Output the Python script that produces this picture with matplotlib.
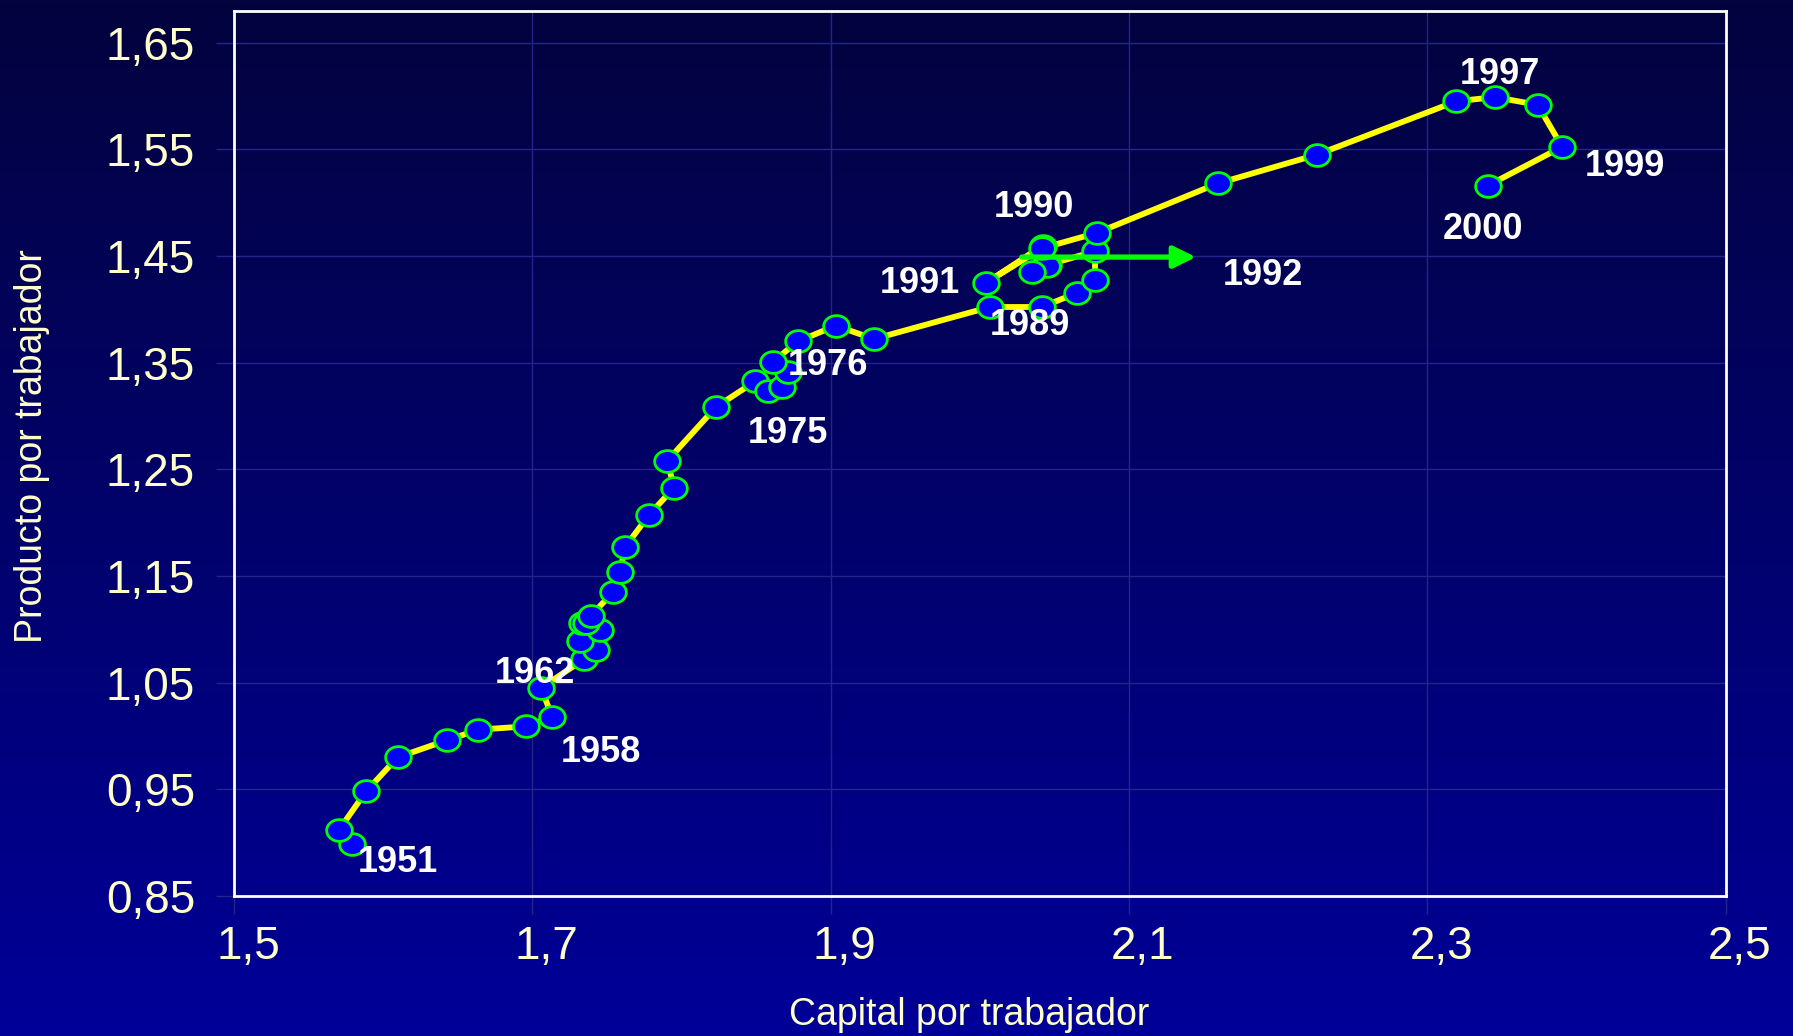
import numpy as np
import matplotlib
matplotlib.use("Agg")
import matplotlib.pyplot as plt
from matplotlib.path import Path
from matplotlib.transforms import ScaledTranslation

# capital per worker (x) and output per worker (y), in path order 1951-2000
capital = [1.5793, 1.5704, 1.5885, 1.6097, 1.6426, 1.6638, 1.6955, 1.7134, 1.7058,
           1.7346, 1.7425, 1.7320, 1.7454, 1.7331, 1.7358, 1.7391,
           1.7543, 1.7588, 1.7621, 1.7784, 1.7950, 1.7905,
           1.8231, 1.8493, 1.8582, 1.8672, 1.8712, 1.8611, 1.8779, 1.9034, 1.9290,
           2.0068, 2.0415, 2.0649, 2.0772, 2.0772, 2.0459, 2.0448, 2.0348,
           2.0421, 2.0041, 2.0415, 2.0783,
           2.1594, 2.2260, 2.3193, 2.3452, 2.3739, 2.3903, 2.3405]
producto = [0.899, 0.912, 0.948, 0.980, 0.996, 1.006, 1.009, 1.018, 1.045,
            1.072, 1.081, 1.089, 1.0995, 1.106, 1.1057, 1.1127,
            1.135, 1.1535, 1.177, 1.2076, 1.2327, 1.258,
            1.3084, 1.3324, 1.323, 1.3268, 1.3409, 1.3506, 1.3699, 1.3847, 1.3722,
            1.4022, 1.4022, 1.4153, 1.4279, 1.4544, 1.4419, 1.4403, 1.4347,
            1.4597, 1.4248, 1.4572, 1.4716,
            1.518, 1.545, 1.595, 1.599, 1.5917, 1.5523, 1.516]

# year labels (text, left x, centre y)
year_labels = ["1951", "1958", "1962", "1975", "1976", "1989", "1990", "1991",
               "1992", "1997", "1999", "2000"]
label_x = [1.5827, 1.7188, 1.675, 1.8441, 1.8711, 2.0069, 2.0095, 1.9326,
           2.1628, 2.322, 2.4057, 2.3106]
label_y = [0.8816, 0.9846, 1.0589, 1.2837, 1.3474, 1.3844, 1.4956, 1.4239,
           1.4313, 1.6206, 1.5341, 1.475]

# green arrow (start, end)
arrow_start = (2.0281, 1.449)
arrow_end = (2.1449, 1.449)

x_ticks = [1.5, 1.7, 1.9, 2.1, 2.3, 2.5]
x_tick_labels = ["1,5", "1,7", "1,9", "2,1", "2,3", "2,5"]
y_ticks = [0.85, 0.95, 1.05, 1.15, 1.25, 1.35, 1.45, 1.55, 1.65]
y_tick_labels = ["0,85", "0,95", "1,05", "1,15", "1,25", "1,35", "1,45", "1,55", "1,65"]

cream = "#FFFFCC"
grid_col = "#24248A"

plt.rcParams["font.family"] = ["Liberation Sans", "DejaVu Sans"]

fig = plt.figure(figsize=(17.93, 10.36), dpi=100)

# vertical gradient background
bg = fig.add_axes([0, 0, 1, 1], zorder=-10)
top = np.array([3, 3, 62]) / 255.0
bottom = np.array([0, 0, 152]) / 255.0
t = np.linspace(0, 1, 256)[:, None]
grad = top + (bottom - top) * t
bg.imshow(grad[:, None, :].repeat(2, axis=1), aspect="auto", extent=[0, 1, 0, 1])
bg.axis("off")

ax = fig.add_axes([0.1305, 0.1351, 0.8320, 0.8546])
ax.set_facecolor("none")

# ellipse marker (slightly wider than tall)
theta = np.linspace(0, 2 * np.pi, 60)
ellipse = Path(np.column_stack([1.18 * np.cos(theta), np.sin(theta)]), closed=True)

ax.plot(capital, producto, color="#FFFF00", lw=4.2, zorder=3, solid_joinstyle="round")
ax.plot(capital, producto, linestyle="none", marker=ellipse, markersize=18.5,
        markerfacecolor="#0000FF", markeredgecolor="#00FF00", markeredgewidth=2,
        zorder=4)

ax.annotate("", xy=arrow_end, xytext=arrow_start,
            arrowprops=dict(arrowstyle="-|>,head_length=0.45,head_width=0.22",
                            color="#00FF00", lw=3.8, mutation_scale=30,
                            shrinkA=0, shrinkB=0), zorder=6)

for txt, lx, ly in zip(year_labels, label_x, label_y):
    ax.text(lx, ly, txt, color="white", fontsize=26, fontweight="bold",
            ha="left", va="center", zorder=7)

ax.set_xlim(1.5, 2.5)
ax.set_ylim(0.85, 1.68)
ax.set_xticks(x_ticks)
ax.set_xticklabels(x_tick_labels)
ax.set_yticks(y_ticks)
ax.set_yticklabels(y_tick_labels)
ax.tick_params(axis="both", colors=grid_col, labelcolor=cream, labelsize=33,
               length=13, width=1, direction="out")
ax.tick_params(axis="y", pad=15)
ax.tick_params(axis="x", pad=8)
for lab in ax.get_xticklabels():
    lab.set_transform(lab.get_transform() + ScaledTranslation(0.14, 0, fig.dpi_scale_trans))

ax.grid(True, color=grid_col, lw=1, zorder=0)
for s in ax.spines.values():
    s.set_color("white")
    s.set_linewidth(2)

ax.set_xlabel("Capital por trabajador", color=cream, fontsize=27, va="center")
ax.xaxis.set_label_coords(0.4925, -0.1344)
ax.set_ylabel("Producto por trabajador", color=cream, fontsize=27, va="center")
ax.yaxis.set_label_coords(-0.1354, 0.508)

fig.savefig("out.png", dpi=100)
